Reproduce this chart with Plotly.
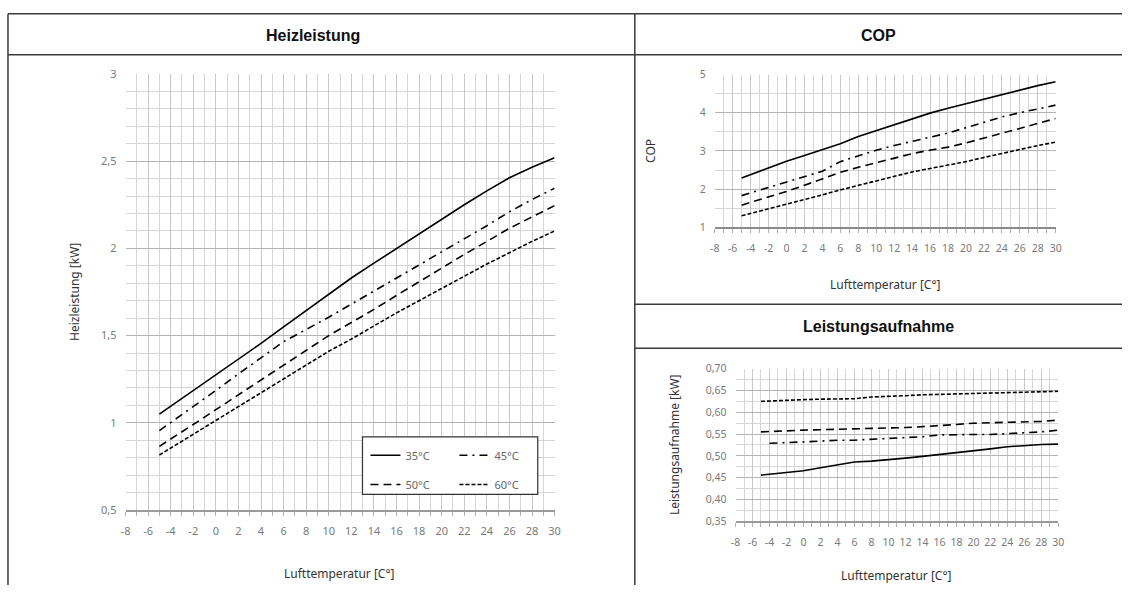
import plotly.graph_objects as go

# ---------------- data ----------------
air_temp = [-5, -4, -2, 0, 2, 4, 6, 8, 10, 12, 14, 16, 18, 20, 22, 24, 26, 28, 30]
series_names = ["35°C", "45°C", "50°C", "60°C"]

heiz_35 = [1.05, 1.095, 1.185, 1.275, 1.365, 1.455, 1.55, 1.645, 1.74, 1.83, 1.915, 2.0, 2.085, 2.17, 2.25, 2.33, 2.405, 2.465, 2.52]
heiz_45 = [0.955, 1.0, 1.095, 1.185, 1.28, 1.37, 1.465, 1.535, 1.605, 1.68, 1.755, 1.83, 1.905, 1.98, 2.055, 2.13, 2.21, 2.28, 2.345]
heiz_50 = [0.865, 0.905, 0.99, 1.075, 1.16, 1.25, 1.335, 1.42, 1.50, 1.575, 1.65, 1.73, 1.81, 1.885, 1.965, 2.04, 2.115, 2.18, 2.245]
heiz_60 = [0.815, 0.855, 0.935, 1.015, 1.095, 1.175, 1.255, 1.335, 1.41, 1.48, 1.555, 1.63, 1.70, 1.77, 1.84, 1.91, 1.975, 2.04, 2.10]

cop_35 = [2.29, 2.38, 2.55, 2.73, 2.88, 3.03, 3.19, 3.38, 3.53, 3.70, 3.85, 3.99, 4.12, 4.24, 4.36, 4.49, 4.61, 4.71, 4.81]
cop_45 = [1.83, 1.90, 2.03, 2.17, 2.33, 2.47, 2.72, 2.87, 3.02, 3.14, 3.25, 3.36, 3.47, 3.61, 3.75, 3.89, 4.00, 4.10, 4.20]
cop_50 = [1.58, 1.65, 1.79, 1.94, 2.10, 2.26, 2.44, 2.57, 2.69, 2.81, 2.93, 3.02, 3.10, 3.21, 3.33, 3.46, 3.59, 3.72, 3.85]
cop_60 = [1.30, 1.36, 1.48, 1.59, 1.72, 1.85, 1.98, 2.10, 2.22, 2.34, 2.45, 2.54, 2.62, 2.72, 2.83, 2.94, 3.04, 3.14, 3.23]

la_35 = [0.456, 0.458, 0.461, 0.466, 0.473, 0.480, 0.486, 0.488, 0.491, 0.495, 0.499, 0.503, 0.507, 0.511, 0.516, 0.521, 0.524, 0.526, 0.527]
la_45 = [None, 0.529, 0.530, 0.532, 0.534, 0.536, 0.536, 0.538, 0.540, 0.542, 0.544, 0.548, 0.549, 0.549, 0.549, 0.551, 0.553, 0.555, 0.559]
la_50 = [0.555, 0.556, 0.557, 0.559, 0.560, 0.561, 0.562, 0.562, 0.563, 0.565, 0.567, 0.569, 0.572, 0.575, 0.576, 0.576, 0.577, 0.579, 0.582]
la_60 = [0.625, 0.626, 0.628, 0.629, 0.630, 0.630, 0.631, 0.635, 0.636, 0.638, 0.640, 0.641, 0.642, 0.643, 0.644, 0.645, 0.646, 0.647, 0.648]

x_tick_vals = [-8, -6, -4, -2, 0, 2, 4, 6, 8, 10, 12, 14, 16, 18, 20, 22, 24, 26, 28, 30]
x_tick_text = ["-8", "-6", "-4", "-2", "0", "2", "4", "6", "8", "10", "12", "14", "16", "18",
               "20", "22", "24", "26", "28", "30"]

# ---------------- styling ----------------
W, H = 1128, 592
dashes = ["solid", "8px,5px,2px,5px", "8px,5px", "4px,2px"]
TICKFONT = dict(family="Noto Sans, Open Sans, sans-serif", size=11, color="#7a7a7a")
TITLEFONT = dict(family="Noto Sans, Open Sans, sans-serif", size=12, color="#333333")
HEADFONT = dict(family="Liberation Sans, Arial, sans-serif", size=16, color="#111111")
MINOR_GRID = "#d6d6d6"
MAJOR_GRID = "#b4b4b4"


def px_x(p):
    return min(max(p / W, 0.0), 1.0)


def px_y(p):
    return min(max(1 - p / H, 0.0), 1.0)


fig = go.Figure()

panels = [
    ("x", "y", [heiz_35, heiz_45, heiz_50, heiz_60], True),
    ("x2", "y2", [cop_35, cop_45, cop_50, cop_60], False),
    ("x3", "y3", [la_35, la_45, la_50, la_60], False),
]
for xa, ya, vals, show in panels:
    for i, (name, v) in enumerate(zip(series_names, vals)):
        fig.add_trace(go.Scatter(
            x=air_temp, y=v, name=name, mode="lines", xaxis=xa, yaxis=ya,
            line=dict(color="#000000", width=1.6, dash=dashes[i]),
            showlegend=show, legend="legend" if i < 2 else "legend2",
            connectgaps=False,
        ))


def xaxis_cfg(domain, anchor, fs):
    return dict(
        domain=domain, anchor=anchor, range=[-8, 30], tickvals=x_tick_vals, ticktext=x_tick_text,
        showgrid=True, gridcolor="#c8c8c8", gridwidth=1,
        minor=dict(dtick=1, tick0=0, showgrid=True, gridcolor=MINOR_GRID, ticks="outside",
                   ticklen=4, tickcolor="#b0b0b0"),
        ticks="outside", ticklen=4, tickcolor="#b0b0b0",
        tickfont=dict(TICKFONT, size=fs), ticklabelstandoff=6,
        showline=True, linecolor="#9a9a9a", linewidth=1.5, zeroline=False, fixedrange=True,
    )


def yaxis_cfg(domain, anchor, rng, dtick, minor_dtick, fmt, fs):
    return dict(
        domain=domain, anchor=anchor, range=rng, dtick=dtick, tick0=rng[0], tickformat=fmt,
        showgrid=True, gridcolor=MAJOR_GRID, gridwidth=1,
        minor=dict(dtick=minor_dtick, tick0=rng[0], showgrid=True, gridcolor=MINOR_GRID),
        ticks="", tickfont=dict(TICKFONT, size=fs), ticklabelstandoff=8,
        showline=False, zeroline=False, fixedrange=True,
    )


LEGFONT = dict(TICKFONT, size=11, color="#666666")
fig.update_layout(
    width=W, height=H, margin=dict(l=0, r=0, t=0, b=0),
    paper_bgcolor="white", plot_bgcolor="white", separators=",.",
    xaxis=xaxis_cfg([px_x(121.7), px_x(555)], "y", 11),
    yaxis=yaxis_cfg([px_y(515), px_y(67.7)], "x", [0.5, 3], 0.5, 0.1, "", 11),
    xaxis2=xaxis_cfg([px_x(716.7), px_x(1061)], "y2", 10.5),
    yaxis2=yaxis_cfg([px_y(225), px_y(68.3)], "x2", [1, 5], 1, 0.5, "", 10.5),
    xaxis3=xaxis_cfg([px_x(737.7), px_x(1063.7)], "y3", 10.5),
    yaxis3=yaxis_cfg([px_y(526.7), px_y(370)], "x3", [0.35, 0.70], 0.05, 0.025, ".2f", 10.5),
    legend=dict(orientation="h", x=px_x(364), y=px_y(444), xanchor="left", yanchor="top",
                bgcolor="rgba(0,0,0,0)", font=LEGFONT, itemwidth=30, entrywidth=44),
    legend2=dict(orientation="h", x=px_x(364), y=px_y(474), xanchor="left", yanchor="top",
                 bgcolor="rgba(0,0,0,0)", font=LEGFONT, itemwidth=30, entrywidth=44),
)
fig.update_xaxes(selector=dict(anchor="y2"), linecolor="#8a8a8a", linewidth=2)

# legend box
fig.add_shape(type="rect", xref="paper", yref="paper",
              x0=px_x(361), x1=px_x(538), y0=px_y(499), y1=px_y(440),
              line=dict(color="#333333", width=1.2), fillcolor="white", layer="above")

# table frame
LINE = dict(color="#3a3a3a", width=1.5)
frame = [
    (3, 6, W, 6), (3, 6, 3, H), (636, 6, 636, H), (3, 48, W, 48),
    (636, 304, W, 304), (636, 349, W, 349),
]
for x0, y0, x1, y1 in frame:
    fig.add_shape(type="line", xref="paper", yref="paper",
                  x0=px_x(x0), y0=px_y(y0), x1=px_x(x1), y1=px_y(y1), line=LINE)

# headers
for text, cx, cy in [("Heizleistung", 311, 28), ("COP", 882, 28), ("Leistungsaufnahme", 882, 327)]:
    fig.add_annotation(text=f"<b>{text}</b>", x=px_x(cx), y=px_y(cy), xref="paper", yref="paper",
                       showarrow=False, font=HEADFONT, xanchor="center", yanchor="middle")

# axis titles
for text, cx, cy, ang in [
    ("Lufttemperatur [C°]", 338, 580, 0), ("Heizleistung [kW]", 70, 291, -90),
    ("Lufttemperatur [C°]", 889, 284, 0), ("COP", 652, 147, -90),
    ("Lufttemperatur [C°]", 900, 582, 0), ("Leistungsaufnahme [kW]", 676, 448, -90),
]:
    fig.add_annotation(text=text, x=px_x(cx), y=px_y(cy), xref="paper", yref="paper",
                       showarrow=False, font=TITLEFONT, textangle=ang,
                       xanchor="center", yanchor="middle")

fig.write_html("out.html", config={"displayModeBar": False},
               post_script="document.body.style.margin='0px';")
